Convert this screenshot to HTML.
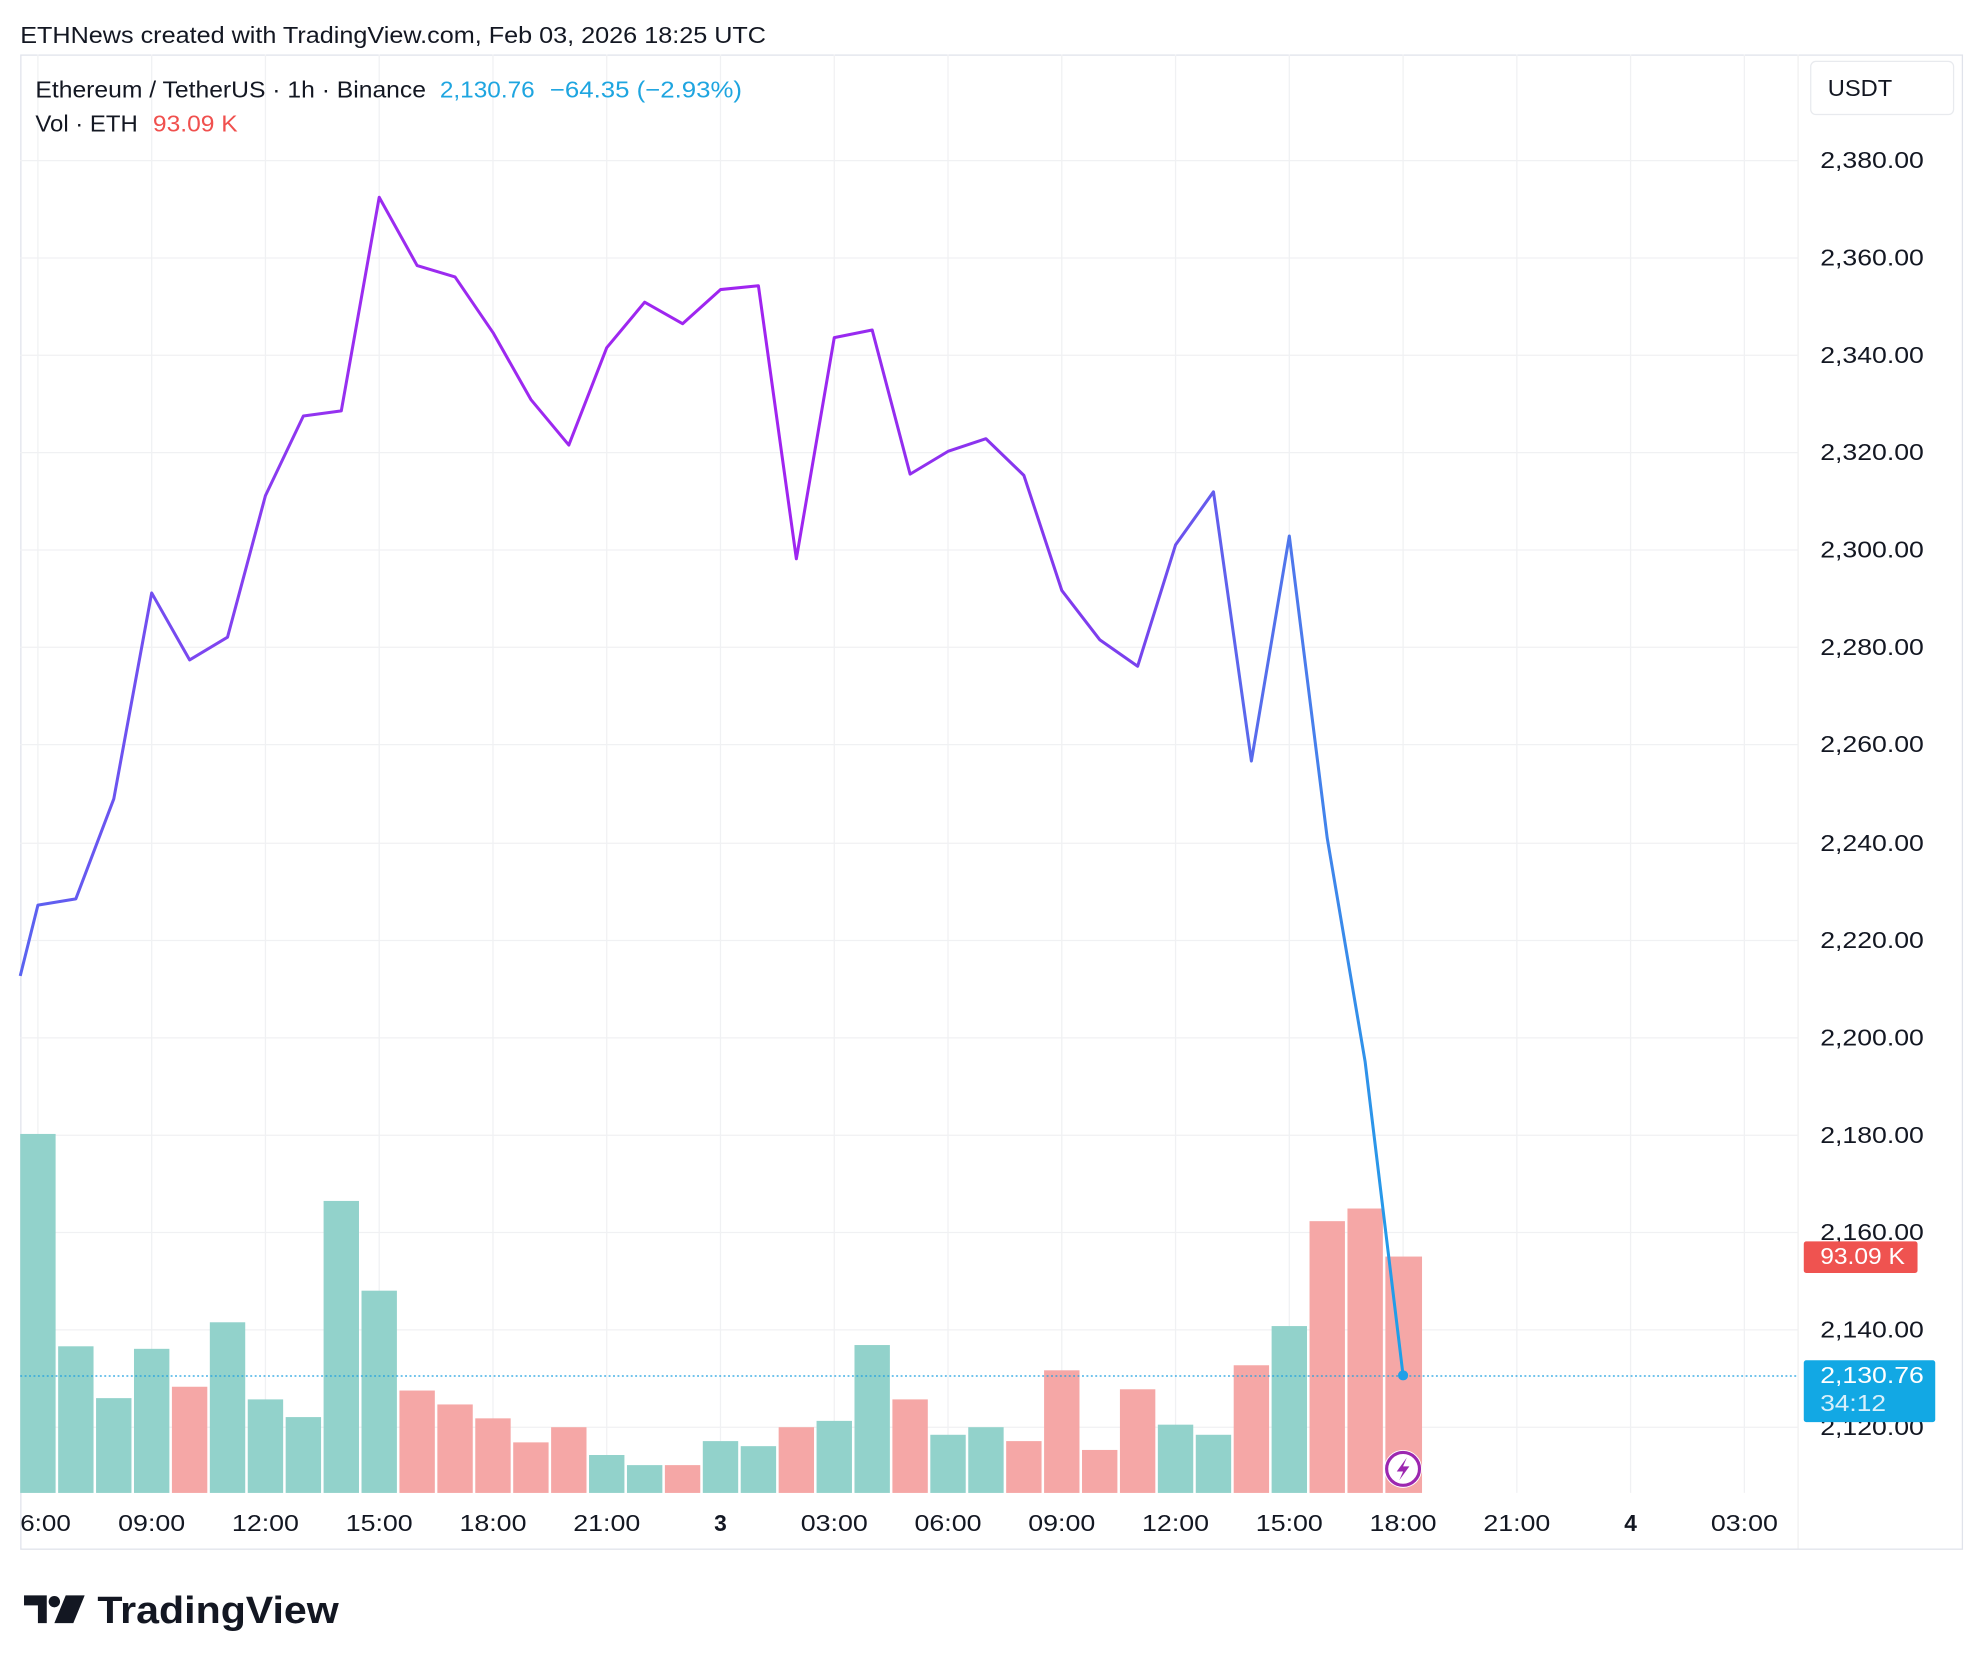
<!DOCTYPE html>
<html><head><meta charset="utf-8"><style>
html,body{margin:0;padding:0;background:#fff;}
svg{display:block;font-family:"Liberation Sans",sans-serif;}
</style></head><body>
<svg width="1982" height="1670" viewBox="0 0 1568 1321" xmlns="http://www.w3.org/2000/svg">
<defs>
<linearGradient id="lg" x1="16" y1="0" x2="1110" y2="0" gradientUnits="userSpaceOnUse">
<stop offset="0" stop-color="#5a63f0"/>
<stop offset="0.25" stop-color="#9b2cf0"/>
<stop offset="0.55" stop-color="#a024f0"/>
<stop offset="0.8" stop-color="#7a40ee"/>
<stop offset="0.93" stop-color="#4a7cec"/>
<stop offset="1" stop-color="#1ea0e8"/>
</linearGradient>
</defs>
<text x="16" y="34" font-size="18" fill="#131722" textLength="590" lengthAdjust="spacingAndGlyphs">ETHNews created with TradingView.com, Feb 03, 2026 18:25 UTC</text>
<rect x="16.5" y="43.5" width="1536" height="1182" fill="none" stroke="#e0e3eb"/>
<line x1="1422.5" y1="43" x2="1422.5" y2="1225" stroke="#f0f0f0"/>
<g stroke="#f0f1f3" stroke-width="1">
<line x1="16" y1="127" x2="1422" y2="127"/><line x1="16" y1="204" x2="1422" y2="204"/><line x1="16" y1="281" x2="1422" y2="281"/><line x1="16" y1="358" x2="1422" y2="358"/><line x1="16" y1="435" x2="1422" y2="435"/><line x1="16" y1="512" x2="1422" y2="512"/><line x1="16" y1="589" x2="1422" y2="589"/><line x1="16" y1="667" x2="1422" y2="667"/><line x1="16" y1="744" x2="1422" y2="744"/><line x1="16" y1="821" x2="1422" y2="821"/><line x1="16" y1="898" x2="1422" y2="898"/><line x1="16" y1="975" x2="1422" y2="975"/><line x1="16" y1="1052" x2="1422" y2="1052"/><line x1="16" y1="1129" x2="1422" y2="1129"/>
<line x1="30" y1="43" x2="30" y2="1181"/><line x1="120" y1="43" x2="120" y2="1181"/><line x1="210" y1="43" x2="210" y2="1181"/><line x1="300" y1="43" x2="300" y2="1181"/><line x1="390" y1="43" x2="390" y2="1181"/><line x1="480" y1="43" x2="480" y2="1181"/><line x1="570" y1="43" x2="570" y2="1181"/><line x1="660" y1="43" x2="660" y2="1181"/><line x1="750" y1="43" x2="750" y2="1181"/><line x1="840" y1="43" x2="840" y2="1181"/><line x1="930" y1="43" x2="930" y2="1181"/><line x1="1020" y1="43" x2="1020" y2="1181"/><line x1="1110" y1="43" x2="1110" y2="1181"/><line x1="1200" y1="43" x2="1200" y2="1181"/><line x1="1290" y1="43" x2="1290" y2="1181"/><line x1="1380" y1="43" x2="1380" y2="1181"/>
</g>
<g id="vol">
<rect x="16" y="897" width="28" height="284" fill="#92d2cb"/>
<rect x="46" y="1065" width="28" height="116" fill="#92d2cb"/>
<rect x="76" y="1106" width="28" height="75" fill="#92d2cb"/>
<rect x="106" y="1067" width="28" height="114" fill="#92d2cb"/>
<rect x="136" y="1097" width="28" height="84" fill="#f5a7a6"/>
<rect x="166" y="1046" width="28" height="135" fill="#92d2cb"/>
<rect x="196" y="1107" width="28" height="74" fill="#92d2cb"/>
<rect x="226" y="1121" width="28" height="60" fill="#92d2cb"/>
<rect x="256" y="950" width="28" height="231" fill="#92d2cb"/>
<rect x="286" y="1021" width="28" height="160" fill="#92d2cb"/>
<rect x="316" y="1100" width="28" height="81" fill="#f5a7a6"/>
<rect x="346" y="1111" width="28" height="70" fill="#f5a7a6"/>
<rect x="376" y="1122" width="28" height="59" fill="#f5a7a6"/>
<rect x="406" y="1141" width="28" height="40" fill="#f5a7a6"/>
<rect x="436" y="1129" width="28" height="52" fill="#f5a7a6"/>
<rect x="466" y="1151" width="28" height="30" fill="#92d2cb"/>
<rect x="496" y="1159" width="28" height="22" fill="#92d2cb"/>
<rect x="526" y="1159" width="28" height="22" fill="#f5a7a6"/>
<rect x="556" y="1140" width="28" height="41" fill="#92d2cb"/>
<rect x="586" y="1144" width="28" height="37" fill="#92d2cb"/>
<rect x="616" y="1129" width="28" height="52" fill="#f5a7a6"/>
<rect x="646" y="1124" width="28" height="57" fill="#92d2cb"/>
<rect x="676" y="1064" width="28" height="117" fill="#92d2cb"/>
<rect x="706" y="1107" width="28" height="74" fill="#f5a7a6"/>
<rect x="736" y="1135" width="28" height="46" fill="#92d2cb"/>
<rect x="766" y="1129" width="28" height="52" fill="#92d2cb"/>
<rect x="796" y="1140" width="28" height="41" fill="#f5a7a6"/>
<rect x="826" y="1084" width="28" height="97" fill="#f5a7a6"/>
<rect x="856" y="1147" width="28" height="34" fill="#f5a7a6"/>
<rect x="886" y="1099" width="28" height="82" fill="#f5a7a6"/>
<rect x="916" y="1127" width="28" height="54" fill="#92d2cb"/>
<rect x="946" y="1135" width="28" height="46" fill="#92d2cb"/>
<rect x="976" y="1080" width="28" height="101" fill="#f5a7a6"/>
<rect x="1006" y="1049" width="28" height="132" fill="#92d2cb"/>
<rect x="1036" y="966" width="28" height="215" fill="#f5a7a6"/>
<rect x="1066" y="956" width="28" height="225" fill="#f5a7a6"/>
<rect x="1096" y="994" width="29" height="187" fill="#f5a7a6"/>
</g>
<line x1="16" y1="1088.5" x2="1422" y2="1088.5" stroke="#1ea0e0" stroke-width="1" stroke-dasharray="1.5 2"/>
<polyline fill="none" stroke="url(#lg)" stroke-width="2.4" stroke-linejoin="round" points="16,772 30,716 60,711 90,632 120,469 150,522 180,504 210,392 240,329 270,325 300,156 330,210 360,219 390,263 420,316 450,352 480,275 510,239 540,256 570,229 600,226 630,442 660,267 690,261 720,375 750,357 780,347 810,376 840,467 870,506 900,527 930,431 960,389 990,602 1020,424 1050,663 1080,840 1110,1088"/>
<circle cx="1110" cy="1088" r="4" fill="#1ea0e8"/>
<circle cx="1110" cy="1162" r="15" fill="#fff"/>
<circle cx="1110" cy="1162" r="13" fill="#fff" stroke="#9c27b0" stroke-width="2.5"/>
<path d="M1113,1153 L1105,1164 L1110,1164 L1107,1171 L1115,1160 L1110,1160 Z" fill="#9c27b0"/>
<g font-size="18" fill="#131722" lengthAdjust="spacingAndGlyphs">
<text x="28" y="77" textLength="309" lengthAdjust="spacingAndGlyphs">Ethereum / TetherUS · 1h · Binance</text>
<text x="348" y="77" fill="#1ea5e0" textLength="75" lengthAdjust="spacingAndGlyphs">2,130.76</text>
<text x="435" y="77" fill="#1ea5e0" textLength="152" lengthAdjust="spacingAndGlyphs">−64.35 (−2.93%)</text>
<text x="28" y="104" textLength="81" lengthAdjust="spacingAndGlyphs">Vol · ETH</text>
<text x="121" y="104" fill="#f0504e" textLength="67" lengthAdjust="spacingAndGlyphs">93.09 K</text>
</g>
<rect x="1432.5" y="48.5" width="113" height="42" rx="4" fill="#fff" stroke="#e8eaee"/>
<text x="1446" y="76" font-size="18" fill="#131722" textLength="51" lengthAdjust="spacingAndGlyphs">USDT</text>
<g font-size="18" fill="#131722">
<text x="1440" y="133" textLength="82" lengthAdjust="spacingAndGlyphs">2,380.00</text><text x="1440" y="210" textLength="82" lengthAdjust="spacingAndGlyphs">2,360.00</text><text x="1440" y="287" textLength="82" lengthAdjust="spacingAndGlyphs">2,340.00</text><text x="1440" y="364" textLength="82" lengthAdjust="spacingAndGlyphs">2,320.00</text><text x="1440" y="441" textLength="82" lengthAdjust="spacingAndGlyphs">2,300.00</text><text x="1440" y="518" textLength="82" lengthAdjust="spacingAndGlyphs">2,280.00</text><text x="1440" y="595" textLength="82" lengthAdjust="spacingAndGlyphs">2,260.00</text><text x="1440" y="673" textLength="82" lengthAdjust="spacingAndGlyphs">2,240.00</text><text x="1440" y="750" textLength="82" lengthAdjust="spacingAndGlyphs">2,220.00</text><text x="1440" y="827" textLength="82" lengthAdjust="spacingAndGlyphs">2,200.00</text><text x="1440" y="904" textLength="82" lengthAdjust="spacingAndGlyphs">2,180.00</text><text x="1440" y="981" textLength="82" lengthAdjust="spacingAndGlyphs">2,160.00</text><text x="1440" y="1058" textLength="82" lengthAdjust="spacingAndGlyphs">2,140.00</text><text x="1440" y="1135" textLength="82" lengthAdjust="spacingAndGlyphs">2,120.00</text>
</g>
<rect x="1427" y="982" width="90" height="25" rx="2" fill="#ef5350"/>
<text x="1440" y="1000" font-size="18" fill="#fff" textLength="67" lengthAdjust="spacingAndGlyphs">93.09 K</text>
<rect x="1427" y="1076" width="104" height="49" rx="2" fill="#12a8e4"/>
<text x="1440" y="1094" font-size="18" fill="#fff" textLength="82" lengthAdjust="spacingAndGlyphs">2,130.76</text>
<text x="1440" y="1116" font-size="18" fill="#d8f0fb" textLength="52" lengthAdjust="spacingAndGlyphs">34:12</text>
<g font-size="18" fill="#131722" text-anchor="middle">
<text x="36" y="1211" textLength="40" lengthAdjust="spacingAndGlyphs">6:00</text><text x="120" y="1211" textLength="53" lengthAdjust="spacingAndGlyphs">09:00</text><text x="210" y="1211" textLength="53" lengthAdjust="spacingAndGlyphs">12:00</text><text x="300" y="1211" textLength="53" lengthAdjust="spacingAndGlyphs">15:00</text><text x="390" y="1211" textLength="53" lengthAdjust="spacingAndGlyphs">18:00</text><text x="480" y="1211" textLength="53" lengthAdjust="spacingAndGlyphs">21:00</text><text x="570" y="1211" font-weight="bold">3</text><text x="660" y="1211" textLength="53" lengthAdjust="spacingAndGlyphs">03:00</text><text x="750" y="1211" textLength="53" lengthAdjust="spacingAndGlyphs">06:00</text><text x="840" y="1211" textLength="53" lengthAdjust="spacingAndGlyphs">09:00</text><text x="930" y="1211" textLength="53" lengthAdjust="spacingAndGlyphs">12:00</text><text x="1020" y="1211" textLength="53" lengthAdjust="spacingAndGlyphs">15:00</text><text x="1110" y="1211" textLength="53" lengthAdjust="spacingAndGlyphs">18:00</text><text x="1200" y="1211" textLength="53" lengthAdjust="spacingAndGlyphs">21:00</text><text x="1290" y="1211" font-weight="bold">4</text><text x="1380" y="1211" textLength="53" lengthAdjust="spacingAndGlyphs">03:00</text>
</g>
<g fill="#131722">
<path d="M19,1262 H37 V1284 H30 V1270 H19 Z"/>
<circle cx="43" cy="1267" r="4.5"/>
<path d="M52,1262 H67 L58,1284 H43 Z"/>
<text x="77" y="1284" font-size="30" font-weight="bold" textLength="191" lengthAdjust="spacingAndGlyphs">TradingView</text>
</g>
</svg>
</body></html>
